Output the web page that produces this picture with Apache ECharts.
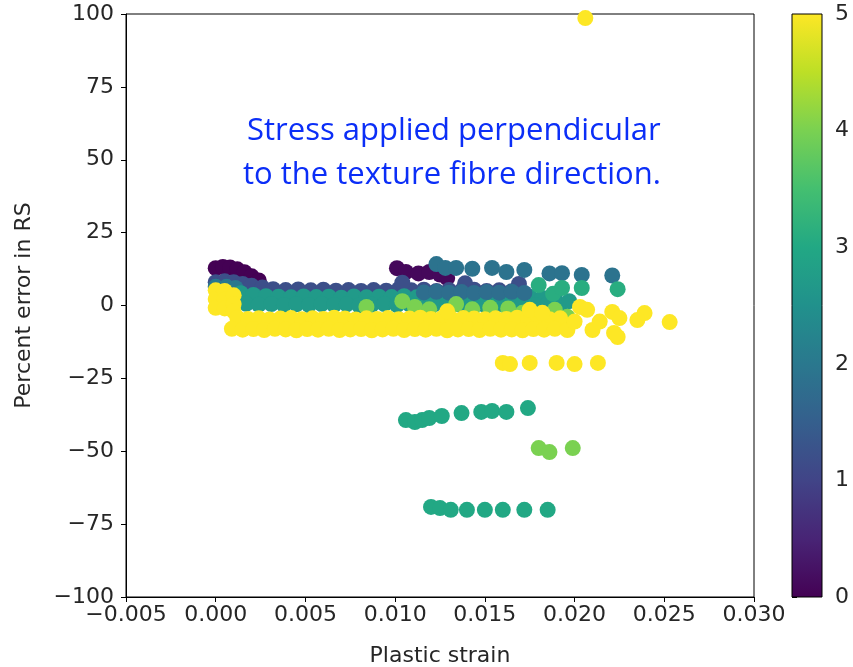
<!DOCTYPE html>
<html>
<head>
<meta charset="utf-8">
<script src="https://cdn.jsdelivr.net/npm/echarts@6/dist/echarts.min.js"></script>
<style>
  html, body { margin: 0; padding: 0; background: #fff; }
  #chart { width: 853px; height: 667px; }
</style>
</head>
<body>
<div id="chart"></div>
<script>
// [plastic strain, percent error in RS] per colour level, in drawing order
const purpleLeft = [[0.0000, 12.8], [0.0004, 13.2], [0.0008, 13.0], [0.0012, 12.4], [0.0016, 11.4], [0.0020, 10.0], [0.0024, 8.6]]
const purpleRight = [[0.0101, 12.8], [0.0106, 11.5], [0.0113, 11.0], [0.0119, 11.5], [0.0125, 10.6], [0.0129, 9.4]]
const blueTop = [
  [0.0000, 8.0], [0.0005, 8.3], [0.0010, 8.0], [0.0015, 7.4], [0.0020, 6.8], [0.0026, 6.2],
  [0.0032, 5.6], [0.0039, 5.3], [0.0046, 5.5], [0.0053, 5.2], [0.0060, 5.4], [0.0067, 5.1],
  [0.0074, 5.3], [0.0081, 5.0], [0.0088, 5.3], [0.0095, 5.1], [0.0102, 5.6], [0.0109, 5.2],
  [0.0116, 5.4], [0.0123, 5.0], [0.0130, 5.3], [0.0137, 5.1], [0.0144, 5.4], [0.0151, 5.0],
  [0.0158, 5.2], [0.0165, 4.9], [0.0104, 7.8], [0.0139, 7.6], [0.0169, 7.4]
]
const tealLeft = [[0.0000, 6.4], [0.0006, 6.4], [0.0011, 6.0]]
const tealBand = [
  [0.0014, 4.2], [0.0021, 3.6], [0.0028, 3.2], [0.0035, 3.0], [0.0042, 2.8], [0.0049, 3.1],
  [0.0056, 2.9], [0.0063, 3.0], [0.0070, 2.7], [0.0077, 3.1], [0.0084, 2.8], [0.0091, 3.0],
  [0.0098, 2.9], [0.0105, 3.2], [0.0112, 2.8], [0.0119, 3.0], [0.0126, 2.7], [0.0133, 3.1],
  [0.0140, 2.9], [0.0147, 3.0], [0.0154, 2.8], [0.0161, 3.1], [0.0168, 2.9], [0.0175, 3.0],
  [0.0182, 2.6], [0.0189, 2.8],
  [0.0017, 0.6], [0.0024, 0.3], [0.0031, 0.5], [0.0038, 0.2], [0.0045, 0.4], [0.0052, 0.1],
  [0.0059, 0.5], [0.0066, 0.2], [0.0073, 0.4], [0.0080, 0.0], [0.0087, 0.3], [0.0094, 0.5],
  [0.0101, 0.1], [0.0108, 0.4], [0.0115, 0.2], [0.0122, 0.5], [0.0129, 0.0], [0.0136, 0.3],
  [0.0143, 0.4], [0.0150, 0.1], [0.0157, 0.3], [0.0164, 0.0], [0.0171, 0.4], [0.0178, 0.2],
  [0.0185, 0.5], [0.0192, 0.0], [0.0197, 1.5]
]
const blueRight = [[0.0116, 4.5], [0.0123, 4.7], [0.0130, 4.4], [0.0137, 4.6], [0.0144, 4.3], [0.0151, 4.6], [0.0158, 4.4], [0.0165, 4.7], [0.0172, 4.3]]
const blueHigh = [
  [0.0123, 14.2], [0.0128, 12.9], [0.0134, 12.9], [0.0143, 12.6], [0.0154, 12.9], [0.0162, 11.5],
  [0.0172, 12.2], [0.0186, 11.0], [0.0193, 11.1], [0.0204, 10.5], [0.0221, 10.3]
]
const tealGreen = [[0.0180, 7.0], [0.0188, 4.0], [0.0193, 6.0], [0.0204, 6.0], [0.0224, 5.6]]
const tealLow = [
  [0.0106, -39.3], [0.0111, -40.0], [0.0115, -39.3], [0.0119, -38.6], [0.0126, -37.9], [0.0137, -36.9],
  [0.0148, -36.5], [0.0154, -36.2], [0.0162, -36.5], [0.0174, -35.2],
  [0.0120, -69.1], [0.0125, -69.5], [0.0131, -70.1], [0.0140, -70.1], [0.0150, -70.1], [0.0160, -70.1],
  [0.0172, -70.1], [0.0185, -70.1]
]
const green = [
  [0.0084, -0.5], [0.0104, 1.5], [0.0111, -0.5], [0.0119, -1.3], [0.0134, 0.5], [0.0143, -1.3],
  [0.0153, -0.8], [0.0163, -1.0], [0.0171, -2.5], [0.0189, -1.5], [0.0196, -3.9],
  [0.0180, -48.9], [0.0186, -50.3], [0.0199, -48.9]
]
const yellow = [
  [0.0000, 5.2], [0.0000, 2.2], [0.0000, -0.8], [0.0005, 5.0], [0.0005, 2.0], [0.0005, -1.0],
  [0.0010, 3.5], [0.0010, 0.5], [0.0010, -2.0],
  [0.0012, -4.2], [0.0018, -4.6], [0.0024, -4.4], [0.0030, -4.8], [0.0036, -4.5], [0.0042, -4.3],
  [0.0048, -4.7], [0.0054, -4.4], [0.0060, -4.6], [0.0066, -4.2], [0.0072, -4.5], [0.0078, -4.8],
  [0.0084, -4.4], [0.0090, -4.6], [0.0096, -4.3], [0.0102, -4.7], [0.0108, -4.5], [0.0114, -4.2],
  [0.0120, -4.6], [0.0126, -4.4], [0.0132, -4.8], [0.0138, -4.3], [0.0144, -4.5], [0.0150, -4.7],
  [0.0156, -4.4], [0.0162, -4.6], [0.0168, -4.2], [0.0174, -4.5], [0.0180, -4.3], [0.0186, -4.7],
  [0.0192, -4.4],
  [0.0009, -8.0], [0.0015, -8.3], [0.0021, -8.1], [0.0027, -8.4], [0.0033, -8.0], [0.0039, -8.2],
  [0.0045, -8.5], [0.0051, -8.1], [0.0057, -8.3], [0.0063, -8.0], [0.0069, -8.4], [0.0075, -8.2],
  [0.0081, -8.1], [0.0087, -8.5], [0.0093, -8.2], [0.0099, -8.0], [0.0105, -8.4], [0.0111, -8.1],
  [0.0117, -8.3], [0.0123, -8.0], [0.0129, -8.5], [0.0135, -8.2], [0.0141, -8.1], [0.0147, -8.4],
  [0.0153, -8.0], [0.0159, -8.3], [0.0165, -8.2], [0.0171, -8.5], [0.0177, -8.1], [0.0183, -8.3],
  [0.0189, -8.0],
  [0.0129, -2.0], [0.0175, -1.5], [0.0182, -2.5],
  [0.0203, -0.5], [0.0207, -1.5], [0.0221, -2.2], [0.0225, -4.3], [0.0239, -2.6], [0.0235, -5.0],
  [0.0253, -5.7], [0.0196, -8.4], [0.0210, -8.4], [0.0222, -9.4], [0.0224, -10.8], [0.0200, -5.5],
  [0.0214, -5.5],
  [0.0160, -19.7], [0.0164, -20.1], [0.0175, -19.7], [0.0190, -19.7], [0.0200, -20.1], [0.0213, -19.7],
  [0.0206, 98.6]
]
// colour-bar value of each group above
const groups = [
  [purpleLeft, 0.0], [purpleRight, 0.1], [blueTop, 1.2], [tealLeft, 2.0], [tealBand, 2.7],
  [blueRight, 1.8], [blueHigh, 1.9], [tealGreen, 3.1], [tealLow, 3.0], [green, 4.0], [yellow, 5.0]
]
const viridis = ['#440154', '#482475', '#414487', '#355f8d', '#2a788e', '#21918c', '#22a884', '#44bf70', '#7ad151', '#bddf26', '#fde725']

const data = []
groups.forEach(([pts, v]) => {
  pts.forEach(p => data.push([p[0], p[1], v]))
})

const minus = s => String(s).replace('-', '\u2212')
const labelFont = { fontFamily: 'DejaVu Sans', fontSize: 22, color: '#262626' }
const tickStyle = { show: true, inside: false, length: 5, lineStyle: { color: '#000', width: 1 } }

const chart = echarts.init(document.getElementById('chart'))
chart.setOption({
  backgroundColor: '#fff',
  animation: false,
  grid: [
    { left: 126, top: 14, width: 628, height: 583, outerBoundsMode: 'none', containLabel: false, show: true, borderColor: '#000', borderWidth: 1, backgroundColor: 'transparent' },
    { left: 792, top: 14, width: 30, height: 583, outerBoundsMode: 'none', containLabel: false }
  ],
  xAxis: [{
    type: 'value',
    gridIndex: 0,
    min: -0.005,
    max: 0.03,
    interval: 0.005,
    name: 'Plastic strain',
    nameLocation: 'middle',
    nameGap: 48,
    nameTextStyle: labelFont,
    axisLine: { show: true, onZero: false, lineStyle: { color: '#000', width: 1 } },
    axisTick: tickStyle,
    axisLabel: Object.assign({
      margin: 7,
      formatter: v => minus((Math.abs(v) < 1e-9 ? 0 : v).toFixed(3))
    }, labelFont),
    splitLine: { show: false }
  }, {
    type: 'value',
    gridIndex: 1,
    show: false,
    min: 0,
    max: 1
  }],
  yAxis: [{
    type: 'value',
    gridIndex: 0,
    min: -100,
    max: 100,
    interval: 25,
    name: 'Percent error in RS',
    nameLocation: 'middle',
    nameGap: 91,
    nameTextStyle: labelFont,
    axisLine: { show: true, onZero: false, lineStyle: { color: '#000', width: 1 } },
    axisTick: tickStyle,
    axisLabel: Object.assign({ margin: 12, formatter: v => minus(v) }, labelFont),
    splitLine: { show: false }
  }, {
    type: 'value',
    gridIndex: 1,
    position: 'right',
    min: 0,
    max: 5,
    interval: 1,
    axisLine: { show: false },
    axisTick: tickStyle,
    axisLabel: Object.assign({ margin: 13 }, labelFont),
    splitLine: { show: false }
  }],
  visualMap: {
    show: false,
    type: 'continuous',
    dimension: 2,
    min: 0,
    max: 5,
    seriesIndex: 0,
    inRange: { color: viridis }
  },
  graphic: [{
    type: 'rect',
    shape: { x: 792, y: 14, width: 30, height: 583 },
    style: {
      fill: new echarts.graphic.LinearGradient(0, 1, 0, 0,
        viridis.map((c, i) => ({ offset: i / (viridis.length - 1), color: c }))),
      stroke: '#000',
      lineWidth: 1
    },
    z: 10
  }, {
    type: 'text',
    left: 247,
    top: 116,
    style: { text: 'Stress applied perpendicular', font: '31px "Open Sans"', fill: '#0b2ef7' },
    z: 20
  }, {
    type: 'text',
    left: 243,
    top: 160,
    style: { text: 'to the texture fibre direction.', font: '31px "Open Sans"', fill: '#0b2ef7' },
    z: 20
  }],
  series: [{
    type: 'scatter',
    xAxisIndex: 0,
    yAxisIndex: 0,
    symbolSize: 16,
    itemStyle: { opacity: 1 },
    data: data
  }]
})
</script>
</body>
</html>
